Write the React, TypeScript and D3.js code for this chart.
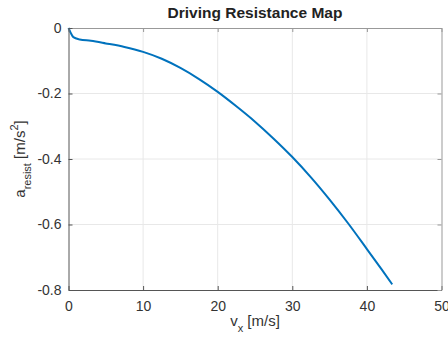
import { useEffect, useRef } from "react";
import * as d3 from "d3";

// speed [m/s] and resistance deceleration [m/s^2]
const speed = [0, 0.3, 0.65, 1.5, 3, 5, 7.5, 10, 12.5, 15, 17.5, 20, 22.5, 25, 27.5, 30, 32.5, 35, 37.5, 40, 42, 43.4];
const resist = [0, -0.015, -0.028, -0.035, -0.039, -0.047, -0.058, -0.073, -0.094, -0.122, -0.156, -0.195, -0.239, -0.286, -0.338, -0.394, -0.456, -0.524, -0.597, -0.675, -0.738, -0.783];
const xTicks = [0, 10, 20, 30, 40, 50];
const yTicks = [0, -0.2, -0.4, -0.6, -0.8];

const W = 448;
const H = 343;

const App = () => {
  const svgRef = useRef<SVGSVGElement | null>(null);

  useEffect(() => {
    if (!svgRef.current) return;
    const margin = { top: 28, right: 6.5, bottom: 53, left: 68.5 };
    const innerW = W - margin.left - margin.right;
    const innerH = H - margin.top - margin.bottom;

    const svg = d3.select(svgRef.current);
    svg.selectAll("*").remove();

    const x = d3.scaleLinear().domain([0, 50]).range([0, innerW]);
    const y = d3.scaleLinear().domain([-0.8, 0]).range([innerH, 0]);

    const g = svg.append("g").attr("transform", `translate(${margin.left},${margin.top})`);
    const font = "'Liberation Sans', Arial, sans-serif";

    // grid
    g.append("g")
      .selectAll("line")
      .data(xTicks.slice(1, -1))
      .join("line")
      .attr("x1", (d) => x(d))
      .attr("x2", (d) => x(d))
      .attr("y1", 0)
      .attr("y2", innerH)
      .attr("stroke", "#e8e8e8");
    g.append("g")
      .selectAll("line")
      .data(yTicks.slice(1, -1))
      .join("line")
      .attr("x1", 0)
      .attr("x2", innerW)
      .attr("y1", (d) => y(d))
      .attr("y2", (d) => y(d))
      .attr("stroke", "#e8e8e8");

    // curve
    const pts = speed.map((v, i) => [v, resist[i]] as [number, number]);
    const line = d3
      .line<[number, number]>()
      .x((d) => x(d[0]))
      .y((d) => y(d[1]))
      .curve(d3.curveMonotoneX);
    g.append("path")
      .datum(pts)
      .attr("fill", "none")
      .attr("stroke", "#0072bd")
      .attr("stroke-width", 2)
      .attr("d", line);

    // axes (MATLAB-style box with inward ticks)
    const styleAxis = (sel: any, color: string, showText: boolean) => {
      sel.select(".domain").attr("stroke", color);
      sel.selectAll(".tick line").attr("stroke", color);
      sel
        .selectAll("text")
        .attr("fill", "#333")
        .attr("font-size", 14)
        .attr("font-family", font)
        .style("display", showText ? null : "none");
    };
    const fmtY = (d: any) => (d === 0 ? "0" : d.toFixed(1));

    g.append("g")
      .attr("transform", `translate(0,${innerH})`)
      .call(d3.axisBottom(x).tickValues(xTicks).tickSize(-4).tickPadding(11).tickSizeOuter(0).tickFormat(d3.format("d")))
      .call((a) => styleAxis(a, "#555", true));
    g.append("g")
      .call(d3.axisTop(x).tickValues(xTicks).tickSize(-4).tickSizeOuter(0))
      .call((a) => styleAxis(a, "#999", false));
    g.append("g")
      .call(d3.axisLeft(y).tickValues(yTicks).tickSize(-4).tickPadding(7).tickSizeOuter(0).tickFormat(fmtY))
      .call((a) => styleAxis(a, "#555", true));
    g.append("g")
      .attr("transform", `translate(${innerW},0)`)
      .call(d3.axisRight(y).tickValues(yTicks).tickSize(-4).tickSizeOuter(0))
      .call((a) => styleAxis(a, "#999", false));

    // title
    svg.append("text")
      .attr("x", margin.left + innerW / 2)
      .attr("y", 18)
      .attr("text-anchor", "middle")
      .attr("font-family", font)
      .attr("font-weight", "bold")
      .attr("font-size", 15.5)
      .attr("fill", "#222")
      .text("Driving Resistance Map");

    // x label
    const xl = svg.append("text")
      .attr("x", margin.left + innerW / 2)
      .attr("y", 326)
      .attr("text-anchor", "middle")
      .attr("font-family", font)
      .attr("font-size", 15)
      .attr("fill", "#333");
    xl.append("tspan").text("v");
    xl.append("tspan").attr("dy", 6).attr("font-size", 11).text("x");
    xl.append("tspan").attr("dy", -6).text(" [m/s]");

    // y label
    const yl = svg.append("text")
      .attr("transform", `translate(25,${margin.top + innerH / 2}) rotate(-90)`)
      .attr("text-anchor", "middle")
      .attr("font-family", font)
      .attr("font-size", 15)
      .attr("fill", "#333");
    yl.append("tspan").text("a");
    yl.append("tspan").attr("dy", 6).attr("font-size", 11).text("resist");
    yl.append("tspan").attr("dy", -6).text(" [m/s");
    yl.append("tspan").attr("dy", -7).attr("font-size", 11).text("2");
    yl.append("tspan").attr("dy", 7).text("]");
  }, []);

  return (
    <svg
      ref={svgRef}
      width={W}
      height={H}
      style={{ position: "absolute", left: 0, top: 0, background: "#fff" }}
    />
  );
};

export default App;
